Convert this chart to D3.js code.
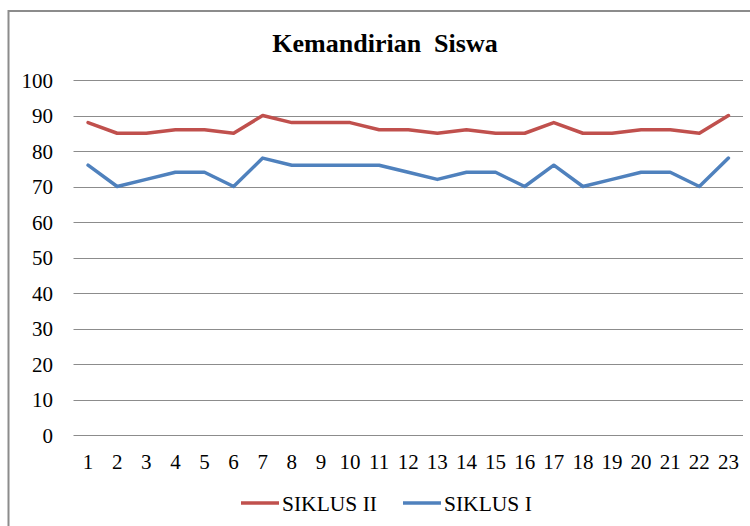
<!DOCTYPE html>
<html>
<head>
<meta charset="utf-8">
<script src="https://cdn.jsdelivr.net/npm/d3@7"></script>
<style>
html,body{margin:0;padding:0;background:#fff;}
svg{display:block;}
</style>
</head>
<body>
<svg id="chart" width="750" height="526"></svg>
<script>
const categories = ["1","2","3","4","5","6","7","8","9","10","11","12","13","14","15","16","17","18","19","20","21","22","23"];
const siklusII = [88,85,85,86,86,85,90,88,88,88,86,86,85,86,85,85,88,85,85,86,86,85,90];
const siklusI  = [76,70,72,74,74,70,78,76,76,76,76,74,72,74,74,70,76,70,72,74,74,70,78];
const yTicks = [0,10,20,30,40,50,60,70,80,90,100];
const seriesNames = ["SIKLUS II","SIKLUS I"];
const seriesColors = ["#C0504D","#4F81BD"];
const title = "Kemandirian  Siswa";

(function(){
const FONT = "Liberation Serif";
const svg = d3.select("#chart");
const pLeft = 73.5, pRight = 743, pTop = 80, pBottom = 435;

svg.append("rect").attr("x",8.5).attr("y",11).attr("width",760).attr("height",540)
  .attr("fill","none").attr("stroke","#8c8c8c").attr("stroke-width",2);

const x = d3.scaleBand().domain(categories).range([pLeft,pRight]);
const y = d3.scaleLinear().domain([0,100]).range([pBottom,pTop]);

svg.append("g").selectAll("line").data(yTicks).join("line")
  .attr("x1",pLeft).attr("x2",pRight)
  .attr("y1",d=>Math.round(y(d))+0.5).attr("y2",d=>Math.round(y(d))+0.5)
  .attr("stroke","#8c8c8c").attr("stroke-width",1);

const yAxis = d3.axisLeft(y).tickValues(yTicks).tickSize(0).tickPadding(0);
const gy = svg.append("g").attr("transform","translate(53,0)").call(yAxis)
  .attr("font-family",FONT).attr("font-size",21);
gy.select(".domain").remove();
gy.selectAll("text").attr("font-family",FONT).attr("font-size",21).attr("fill","#000").attr("dy","0.35em");

const xAxis = d3.axisBottom(x).tickSize(0).tickPadding(0);
const gx = svg.append("g").attr("transform",`translate(0,469)`).call(xAxis)
  .attr("font-family",FONT).attr("font-size",21);
gx.select(".domain").remove();
gx.selectAll("text").attr("font-family",FONT).attr("font-size",21).attr("fill","#000").attr("dy","0");

const line = d3.line().x((d,i)=>x(categories[i])+x.bandwidth()/2).y(d=>y(d));
[siklusII, siklusI].forEach((s,k)=>{
  svg.append("path").datum(s).attr("d",line)
    .attr("fill","none").attr("stroke",seriesColors[k]).attr("stroke-width",3.5)
    .attr("stroke-linejoin","round").attr("stroke-linecap","round");
});

svg.append("text").attr("x",385).attr("y",52).attr("text-anchor","middle")
  .attr("font-family",FONT).attr("font-size",26).attr("font-weight","bold")
  .attr("xml:space","preserve").style("white-space","pre").attr("fill","#000").text(title);

const legX = [241,403];
seriesNames.forEach((n,k)=>{
  svg.append("line").attr("x1",legX[k]).attr("x2",legX[k]+38).attr("y1",503).attr("y2",503)
    .attr("stroke",seriesColors[k]).attr("stroke-width",3.5);
  svg.append("text").attr("x",legX[k]+41).attr("y",511)
    .attr("font-family",FONT).attr("font-size",21.5).attr("fill","#000").text(n);
});
})();
</script>
</body>
</html>
